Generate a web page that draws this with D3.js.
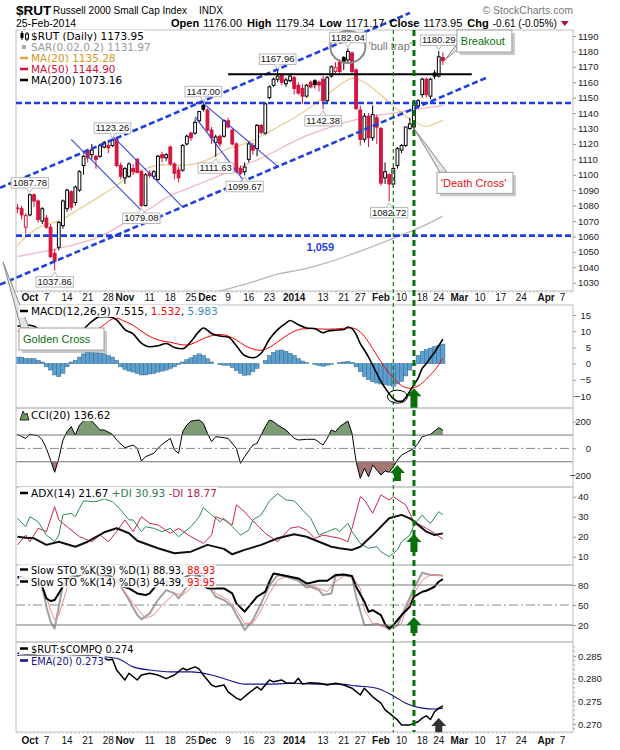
<!DOCTYPE html>
<html>
<head>
<meta charset="utf-8">
<script src="https://cdn.jsdelivr.net/npm/d3@7"></script>
<style>
body{margin:0;background:#fff;}
</style>
</head>
<body>
<svg id="chart" width="620" height="750"></svg>
<script>
// ---------- data ----------
// daily candles: date, open, high, low, close
var candles=[
["2013-09-26",1078.5,1081,1075,1078],["2013-09-27",1078,1080,1071,1074],["2013-09-30",1066,1075,1062,1073.5],
["2013-10-01",1074,1087.78,1073,1087],["2013-10-02",1087,1088,1079,1083],["2013-10-03",1083,1084,1069,1071],
["2013-10-04",1070,1079,1068,1078],["2013-10-07",1072,1074,1065,1066],["2013-10-08",1066,1068,1046,1047],
["2013-10-09",1049,1052,1037.86,1044],["2013-10-10",1053,1070,1051,1069],["2013-10-11",1067,1084,1065,1083],
["2013-10-14",1078,1091,1076,1090],["2013-10-15",1089,1090,1077,1079],["2013-10-16",1082,1093,1080,1092],
["2013-10-17",1090,1103,1089,1102],["2013-10-18",1106,1113,1100,1112],["2013-10-21",1116,1117,1108,1111],
["2013-10-22",1113,1120,1110,1116],["2013-10-23",1112,1113,1104,1110],["2013-10-24",1112,1120,1111,1119],
["2013-10-25",1118,1122,1117,1121],["2013-10-28",1119,1121,1114,1117.5],["2013-10-29",1119,1123.26,1118,1123],
["2013-10-30",1123,1124,1105,1106],["2013-10-31",1106,1108,1097,1099],["2013-11-01",1098,1105,1094,1104],
["2013-11-04",1099,1108,1098,1107],["2013-11-05",1104,1107,1100,1102],["2013-11-06",1110,1111,1101,1101.5],
["2013-11-07",1102,1103,1079.08,1080],["2013-11-08",1080,1101,1079.5,1100],["2013-11-11",1101,1103,1098,1099.5],
["2013-11-12",1099,1103,1097,1102],["2013-11-13",1097,1113,1096,1112],["2013-11-14",1113,1115,1108,1111],
["2013-11-15",1111,1114,1109,1113],["2013-11-18",1118,1119,1106,1107],["2013-11-19",1107,1108,1097,1101],
["2013-11-20",1103,1105,1095,1098],["2013-11-21",1103,1120,1102,1119],["2013-11-22",1120,1126,1119,1125],
["2013-11-25",1127,1128,1122,1124],["2013-11-26",1127,1136,1126,1134],["2013-11-27",1135,1141.5,1134,1141],
["2013-11-29",1145,1147,1141,1142.5],["2013-12-02",1142,1143,1128,1129],["2013-12-03",1129,1131,1120,1124],
["2013-12-04",1121,1126,1111.63,1124.5],["2013-12-05",1125,1126,1118,1120],["2013-12-06",1125,1136,1124,1135],
["2013-12-09",1135,1137,1130,1131],["2013-12-10",1129,1130,1119,1120],["2013-12-11",1120,1121,1101,1102],
["2013-12-12",1104,1106,1100,1101],["2013-12-13",1102,1108,1099.67,1105],["2013-12-16",1110,1122,1108,1120],
["2013-12-17",1119,1121,1113,1116],["2013-12-18",1117,1133,1112,1132],["2013-12-19",1132,1133,1126,1127.5],
["2013-12-20",1127,1147,1126,1146],["2013-12-23",1150,1158,1149,1157],["2013-12-24",1158,1163,1157,1162],
["2013-12-26",1162,1167.96,1160,1164],["2013-12-27",1165,1166,1158,1160],["2013-12-30",1159,1163,1157,1161.5],
["2013-12-31",1161,1165,1160,1164],["2014-01-02",1163,1164,1152,1156],["2014-01-03",1158,1160,1152,1153],
["2014-01-06",1156,1159,1146,1151],["2014-01-07",1151,1159,1150,1158],["2014-01-08",1160,1161,1156,1157],
["2014-01-09",1161,1162,1156,1158.5],["2014-01-10",1160,1161,1154,1158.2],["2014-01-13",1162,1164,1142.38,1148],
["2014-01-14",1148,1164,1147,1163],["2014-01-15",1164,1171,1163,1170],["2014-01-16",1167,1173,1165,1169.5],
["2014-01-17",1173,1175,1165,1167],["2014-01-21",1176,1177,1168,1173.5],["2014-01-22",1174.5,1182.04,1173,1180],
["2014-01-23",1179,1180,1165,1167],["2014-01-24",1168,1169,1142,1143],["2014-01-27",1142,1145,1119,1123],
["2014-01-28",1123,1140,1121,1138],["2014-01-29",1138,1140,1118,1124],["2014-01-30",1124,1145,1122,1139],
["2014-01-31",1137,1139,1120,1130.9],["2014-02-03",1130,1131,1093,1094.6],["2014-02-04",1098,1108,1094,1102],
["2014-02-05",1100,1101,1082.72,1094],["2014-02-06",1094,1105,1092,1104],["2014-02-07",1106,1118,1104,1117],
["2014-02-10",1116,1120,1114,1119],["2014-02-11",1119,1131,1118,1131],["2014-02-12",1130,1137,1129,1133],
["2014-02-13",1131,1146,1129,1145],["2014-02-14",1145,1149,1143,1148],["2014-02-18",1152,1163,1150,1162],
["2014-02-19",1162,1163,1150,1152],["2014-02-20",1151,1163,1149,1162],["2014-02-21",1166,1168,1162,1164],
["2014-02-24",1164,1180.29,1163,1176.5],["2014-02-25",1176,1179.34,1171.17,1173.95]
];
// line series: [candle index, value]
var ma20=[[0,1054],[3,1062],[7,1068],[10,1070],[15,1078],[20,1086],[24,1093],[27,1099],[31,1104],[35,1106.5],[39,1106],[43,1107],[47,1111],[51,1117],[55,1120],[59,1125],[63,1131],[67,1137],[71,1144],[75,1152],[79,1160],[81,1162.5],[84,1160],[87,1154],[90,1147],[93,1140],[96,1134.5],[99,1131.5],[101,1133],[103,1135.3]];
var ma50=[[0,1047],[4,1049],[12,1053.5],[20,1060],[28,1072],[32,1078],[36,1085],[44,1094],[52,1103],[60,1112],[68,1123],[76,1131],[84,1137],[92,1140.5],[98,1143],[103,1144.9]];
var ma200=[[39,1019],[51,1026],[57,1030.5],[63,1035.5],[69,1038.7],[75,1043],[81,1048.5],[87,1054.5],[93,1061],[98,1066.5],[103,1073.2]];
var macdLine=[[0,11.5],[2,12],[4,11.5],[6,9.5],[8,6.5],[10,5],[12,5.5],[14,7.5],[16,10.5],[18,13],[20,14.5],[22,14.5],[24,13.5],[26,10.5],[28,9.2],[30,6.3],[32,5.2],[34,5.5],[36,6.2],[38,5],[40,4.6],[42,6.8],[44,10],[45,11],[47,9.3],[49,8.5],[51,8.2],[53,5.5],[55,2.5],[57,1.8],[59,3.2],[61,7.5],[63,10.5],[65,12.5],[66,13.3],[68,12],[70,11],[72,10.8],[74,9.5],[75,10],[77,10.3],[79,10.5],[80,11.3],[81,10.8],[82,9],[83,6.2],[84,4.2],[85,2],[86,-0.5],[87,-3],[88,-5.5],[89,-7.5],[90,-9.3],[91,-10.8],[92,-11.6],[93,-11.6],[94,-10.5],[95,-8.5],[96,-6.5],[97,-4.5],[98,-1.5],[99,0],[100,1.8],[101,3.5],[102,5.5],[103,7.5]];
var macdSignal=[[0,10],[3,10.5],[6,10],[9,9],[12,8],[15,8],[18,9.5],[21,12],[23,13.8],[24,14],[26,13],[28,11.8],[30,10],[32,8.4],[35,7],[37,6.6],[39,6],[41,5.7],[43,6.5],[45,7.7],[47,8.6],[49,9],[51,8.5],[53,7.3],[55,5.6],[57,4.5],[59,4.1],[61,5],[63,6.7],[65,8.5],[67,10],[69,10.7],[71,10.8],[73,10.7],[75,10.6],[77,10.7],[79,10.9],[81,11],[82,10.6],[83,9.8],[84,8.4],[85,6.6],[86,4.6],[87,2.6],[88,0.6],[89,-1.3],[90,-3],[91,-4.5],[92,-5.8],[93,-6.8],[94,-7.4],[95,-7.6],[96,-7.4],[97,-6.9],[98,-6],[99,-4.8],[100,-3.5],[101,-2.1],[102,-0.3],[103,1.5]];
// one histogram value per candle
var macdHist=[2.0,2.0,1.5,1.5,1.5,1.0,0.5,
-1.0,-2.0,-3.5,-4.0,-3.0,-1.0,0.5,1.0,2.0,3.0,
3.5,3.5,3.3,3.2,3.0,2.5,2.0,1.0,-1.0,-1.8,
-2.3,-2.6,-3.0,-3.5,-3.5,-3.2,-3.0,-2.6,-2.3,-2.0,
-1.5,-1.0,-0.3,0.5,1.2,1.8,2.5,3.0,2.5,1.5,
0.5,0.0,-0.3,-0.5,-0.5,-1.2,-2.2,-3.0,-3.6,-3.5,
-2.5,-1.5,0.0,1.0,2.5,3.5,4.0,4.2,3.8,3.2,
2.5,1.5,0.8,0.3,0.0,-0.3,-0.6,-0.8,-0.5,-0.2,
0.0,0.3,0.5,0.7,0.3,-1.0,-2.5,-4.0,-5.0,-5.6,
-6.0,-6.3,-6.5,-6.7,-7.0,-6.3,-5.5,-3.8,-2.0,-0.5,
2.5,3.8,4.3,4.8,5.2,5.6,6.0];
var cci=[[0,105],[1,88],[2,75],[3,105],[5,95],[6,63],[7,0],[8,-87],[9,-179],[10,-75],[11,63],[12,125],[13,163],[14,100],[15,175],[16,205],[17,213],[18,205],[20,138],[21,138],[23,105],[24,63],[26,5],[28,25],[29,0],[30,-94],[31,-62],[33,-37],[34,0],[35,30],[37,75],[38,-12],[39,-37],[40,125],[41,175],[42,205],[44,213],[45,188],[46,113],[47,50],[48,88],[50,80],[51,75],[53,0],[54,-112],[55,-62],[57,25],[58,38],[60,163],[61,213],[62,200],[63,175],[65,138],[67,75],[68,63],[70,68],[72,68],[74,25],[75,75],[76,138],[77,125],[78,163],[80,205],[81,113],[82,-100],[83,-224],[84,-150],[85,-212],[86,-124],[87,-162],[88,-199],[89,-169],[90,-179],[91,-137],[92,-87],[93,-50],[96,0],[97,38],[98,88],[100,105],[101,130],[102,155],[103,137]];
var adx=[[0,20],[2,19.5],[4,19.2],[7,15.9],[10,17.5],[14,15],[17,17.5],[21,22.2],[24,24.2],[27,21.7],[29,18],[34,14.2],[38,11.7],[42,12.5],[46,15.9],[50,13.9],[52,11.2],[55,13.4],[59,15.9],[63,19.2],[67,21.2],[70,20],[73,17.5],[76,15],[78,14.2],[81,13.4],[83,15],[86,20.8],[90,29.2],[93,30.9],[95,29.2],[97,25.9],[99,22.5],[101,20.8],[103,21.67]];
var plusDI=[[0,29.2],[2,25],[3,30],[5,27.5],[7,20.8],[9,17.5],[10,20.8],[11,30.9],[13,31.7],[14,30],[15,34.2],[16,37.9],[19,37.5],[21,38.9],[23,37.5],[25,33.4],[27,28.4],[28,28.4],[30,22.5],[31,25],[33,24.2],[35,22.5],[37,24.2],[39,20],[42,25],[44,30],[45,34.5],[47,30.9],[49,27.5],[50,29.2],[52,25],[54,20.8],[56,23.3],[57,28.4],[59,30.9],[61,37.9],[63,41.5],[65,38.4],[67,37.9],[69,33.4],[71,29.2],[73,20.8],[75,22.5],[77,24.2],[78,22.5],[80,26.7],[81,22.5],[83,16.7],[85,14.2],[87,15],[88,12.5],[90,10],[92,13.4],[93,17.5],[95,20.8],[96,25.9],[98,30.9],[99,28.4],[100,26.7],[102,32.5],[103,30.93]];
var minusDI=[[0,15.9],[2,20.8],[3,17.5],[5,24.2],[7,22.5],[9,35],[10,28.4],[12,25],[15,20],[18,17.5],[20,20.8],[22,17.5],[24,22.5],[26,28.4],[28,22.5],[30,30],[32,26.7],[34,25.9],[37,21.7],[39,24.2],[42,20],[45,16.7],[47,20.8],[48,30],[50,28.4],[52,25.9],[53,35.9],[55,32.5],[56,30],[58,25.9],[60,21.7],[63,17.5],[66,24.2],[68,25],[70,23.3],[72,19.2],[74,20.8],[76,20],[78,19.2],[80,17.5],[81,24.2],[83,40],[84,38.4],[86,31.7],[88,40.9],[90,38.4],[91,40],[94,35.9],[96,27.5],[99,24.2],[101,21.7],[103,18.77]];
var stoK39=[[0,92],[2,90],[4,88],[5,85],[6,77.4],[7,60],[8,56],[9,57.4],[10,67.4],[11,78.4],[12,86],[14,92],[16,97],[18,98],[20,97],[22,95],[24,88],[25,78.4],[27,75],[29,67.4],[31,64.9],[32,67.4],[33,75],[34,82],[36,85],[38,84],[40,90],[42,96],[44,94.9],[45,80],[46,75],[48,74.9],[50,74.9],[52,67.4],[53,52.4],[55,40],[56,47.4],[58,62.4],[60,70],[61,85],[62,97.4],[64,94.9],[66,92.4],[68,89.9],[70,82.4],[71,83.4],[73,86.4],[75,86.4],[77,94.9],[79,95.9],[81,93.4],[82,77.4],[84,54.9],[85,39.9],[86,42.4],[88,34.9],[89,21.4],[90,14.9],[91,19.9],[93,34.9],[95,47.4],[96,62.4],[98,69.9],[99,71.4],[101,77.4],[102,84.9],[103,88.93]];
var stoK14=[[0,90],[2,88],[4,85],[5,80],[6,77.4],[7,47.4],[8,25],[9,14.9],[10,47.4],[11,80],[12,90],[14,95],[16,98],[18,97],[20,95],[22,92],[24,88],[25,78],[27,57.4],[29,35],[30,28.4],[32,37.4],[34,57.4],[36,72.4],[38,67.4],[39,59.9],[41,77.4],[43,92],[45,95],[46,80],[48,62.4],[50,57.4],[52,47.4],[53,35],[54,24.9],[55,12.4],[57,27.4],[59,52.4],[61,79.9],[63,94.9],[65,92.4],[68,86.4],[70,76.4],[71,77.4],[73,72.4],[74,64.9],[76,67.4],[77,93.4],[79,94.9],[81,92.4],[82,62.4],[84,19.9],[85,19.9],[87,21.4],[89,17.4],[90,13.4],[92,19.9],[94,47.4],[96,74.9],[98,98.4],[100,94.9],[101,94.9],[103,94.39]];
var stoD14=[[0,91],[2,89],[4,86],[6,80],[7,62],[8,42.4],[9,28],[10,35],[11,55],[12,75],[13,88],[15,95],[17,97],[19,96],[21,94],[23,90],[25,78],[28,52.4],[31,29.9],[33,34.9],[35,49.9],[38,67.4],[40,64.9],[42,75],[44,88],[46,85],[48,67.4],[51,57.4],[53,42.4],[55,22.4],[57,22.4],[59,42.4],[61,67.4],[63,87.4],[65,92.4],[68,89.9],[70,79.9],[72,77.4],[75,69.9],[77,84.9],[79,93.4],[81,93.4],[83,74.9],[84,42.4],[86,22.4],[89,19.9],[91,14.9],[93,22.4],[94,42.4],[96,67.4],[98,87.4],[100,94.9],[103,93.95]];
var ratio=[[0,0.2856],[3,0.2853],[6,0.2850],[10,0.2848],[14,0.2850],[17,0.2851],[19,0.2850],[20,0.2849],[22,0.2841],[23,0.2843],[24,0.2819],[26,0.2797],[27,0.2812],[29,0.2797],[30,0.2808],[32,0.2812],[34,0.2808],[36,0.2800],[38,0.2808],[40,0.2823],[41,0.2819],[43,0.2826],[44,0.2821],[45,0.2808],[47,0.2786],[48,0.2782],[50,0.2786],[51,0.2771],[53,0.2757],[54,0.2753],[56,0.2768],[58,0.2782],[59,0.2775],[61,0.2797],[62,0.2793],[64,0.2797],[65,0.2791],[67,0.2790],[68,0.2801],[69,0.2788],[71,0.2791],[73,0.2790],[75,0.2786],[77,0.2790],[79,0.2786],[81,0.2779],[83,0.2764],[84,0.2779],[86,0.2760],[88,0.2746],[89,0.2731],[90,0.2724],[92,0.2709],[93,0.2698],[95,0.2698],[97,0.2705],[98,0.2713],[99,0.2718],[100,0.2710],[101,0.2727],[102,0.2735],[103,0.2740]];
var ratioEma=[[0,0.2851],[7,0.2850],[13,0.2849],[19,0.2849],[24,0.2845],[28,0.2826],[32,0.2819],[37,0.2815],[42,0.2815],[47,0.2808],[51,0.2797],[55,0.2788],[61,0.2788],[67,0.2790],[72,0.2788],[78,0.2788],[82,0.2784],[87,0.2779],[91,0.2762],[94,0.2746],[98,0.2735],[101,0.2733],[103,0.2735]];
// axis ticks / labels
var priceTicks=[1190,1180,1170,1160,1150,1140,1130,1120,1110,1100,1090,1080,1070,1060,1050,1040,1030];
var macdTicks=[15,10,5,0,-5,-10], cciTicks=[200,0,-200], adxTicks=[40,30,20,10], stoTicks=[80,50,20], ratioTicks=[0.285,0.280,0.275,0.270];
var dateTicks=[["2013-10-01","Oct",1],["2013-10-07","7"],["2013-10-14","14"],["2013-10-21","21"],["2013-10-28","28"],["2013-11-01","Nov",1],["2013-11-11","11"],["2013-11-18","18"],["2013-11-25","25"],["2013-12-02","Dec",1],["2013-12-09","9"],["2013-12-16","16"],["2013-12-23","23"],["2014-01-02","2014",1],["2014-01-13","13"],["2014-01-21","21"],["2014-01-27","27"],["2014-02-03","Feb",1],["2014-02-10","10"],["2014-02-18","18"],["2014-02-24","24"],["2014-03-03","Mar",1],["2014-03-10","10"],["2014-03-17","17"],["2014-03-24","24"],["2014-04-01","Apr",1],["2014-04-07","7"]];
// chart annotations (drawn levels and labelled highs / lows)
var supportLevels=[1146.5,1060.5];
var resistance=[["2013-12-09",1165.2],["2014-03-06",1165.2]];
var upperChannel=[["2013-10-01",1099.8],["2014-01-22",1187.8]];
var lowerChannel=[["2013-10-01",1037.0],["2014-02-25",1150.9]];
var downLines=[[["2013-10-15",1123],["2013-11-08",1074.2]],[["2013-10-24",1133.4],["2013-11-21",1079]],[["2013-11-26",1137.5],["2013-12-13",1095.4]],[["2013-11-29",1146.3],["2013-12-26",1105.4]]];
var priceNotes=[["2013-10-01",1087.78,1],["2013-10-29",1123.26,1],["2013-11-29",1147.00,1],["2013-12-26",1167.96,1],["2014-01-22",1182.04,1],["2014-02-24",1180.29,1],["2014-01-13",1142.38,-1],["2013-12-04",1111.63,-1],["2013-12-13",1099.67,-1],["2013-11-07",1079.08,-1],["2013-10-09",1037.86,-1],["2014-02-05",1082.72,-1]];
var markerDays=["2014-02-06","2014-02-13"];

// ---------- layout ----------
var AR="Liberation Sans, Arial, sans-serif", DV="DejaVu Sans, Verdana, sans-serif";
var L=16,R=573;
var P={main:[30,291],macd:[305,408],cci:[408,487],adx:[487,565],sto:[565,642],ratio:[642,732]};
var RED="#d4143c", BLUE="#1f3fe0", GREEN="#0a700a";
var svg=d3.select("#chart");
var fmt=d3.timeFormat("%Y-%m-%d"), parse=d3.timeParse("%Y-%m-%d");
var days=candles.map(function(d){return d[0];});
var future=d3.timeDay.range(parse("2014-02-26"),parse("2014-04-10"))
  .filter(function(d){return d.getDay()>0&&d.getDay()<6;}).map(fmt);
var x=d3.scalePoint().domain(days.concat(future)).range([17.5,570.9]);
var step=x.step();
var y=d3.scaleLinear().domain([1190,1030]).range([36,282.7]);
var yM=d3.scaleLinear().domain([15,-10]).range([315,396]);
var yC=d3.scaleLinear().domain([200,-200]).range([421.7,475.1]);
var yA=d3.scaleLinear().domain([40,10]).range([496.7,556.7]);
var yS=d3.scaleLinear().domain([80,20]).range([585,625]);
var yR=d3.scaleLinear().domain([0.285,0.270]).range([656,724]);
function xi(k){return x(days[k]);}

var defs=svg.append("defs");
Object.keys(P).forEach(function(k){
  defs.append("clipPath").attr("id","clip-"+k).append("rect")
    .attr("x",L).attr("y",P[k][0]).attr("width",R-L).attr("height",P[k][1]-P[k][0]);
});
function panelG(k){return svg.append("g").attr("clip-path","url(#clip-"+k+")");}
function drawLine(g,data,ys,color,w,op,curve){
  g.append("path").datum(data)
    .attr("d",d3.line().curve(curve||d3.curveLinear).x(function(d){return xi(d[0]);}).y(function(d){return ys(d[1]);}))
    .attr("fill","none").attr("stroke",color).attr("stroke-width",w).attr("stroke-opacity",op==null?1:op)
    .attr("stroke-linejoin","round");
}
function hRule(ys,v,color,dash){
  svg.append("line").attr("x1",L).attr("x2",R).attr("y1",ys(v)).attr("y2",ys(v))
    .attr("stroke",color).attr("stroke-width",1).attr("stroke-dasharray",dash||null);
}

// ---------- main price panel ----------
var gm=panelG("main");
drawLine(gm,ma200,y,"#000",1.3,0.28,d3.curveMonotoneX);
drawLine(gm,ma50,y,"#d0103a",1.3,0.3,d3.curveMonotoneX);
drawLine(gm,ma20,y,"#d9a441",1.3,0.55,d3.curveMonotoneX);

var cd=candles.map(function(d,k){return {d:d[0],o:d[1],h:d[2],l:d[3],c:d[4],pc:k?candles[k-1][4]:d[1]};});
function ccol(d){return d.c<d.pc?RED:"#000";}
var cg=gm.selectAll("g.cdl").data(cd).join("g").attr("class","cdl");
cg.append("line").attr("x1",function(d){return x(d.d);}).attr("x2",function(d){return x(d.d);})
  .attr("y1",function(d){return y(d.h);}).attr("y2",function(d){return y(d.l);})
  .attr("stroke",ccol).attr("stroke-width",1);
cg.append("rect").attr("x",function(d){return x(d.d)-1.4;}).attr("width",2.8)
  .attr("y",function(d){return y(Math.max(d.o,d.c));})
  .attr("height",function(d){return Math.max(0.8,Math.abs(y(d.o)-y(d.c)));})
  .attr("fill",function(d){return d.c>=d.o?"#fff":ccol(d);})
  .attr("stroke",ccol).attr("stroke-width",1);

// ---------- MACD ----------
var gmacd=panelG("macd");
gmacd.selectAll("rect").data(macdHist).join("rect")
  .attr("x",function(d,k){return xi(k)-step/2;}).attr("width",step)
  .attr("y",function(d){return Math.min(yM(0),yM(d));})
  .attr("height",function(d){return Math.abs(yM(d)-yM(0));})
  .attr("fill","#5da0cf").attr("stroke","#2e6790").attr("stroke-width",0.5);
drawLine(gmacd,macdSignal,yM,"#ff0000",1,1,d3.curveMonotoneX);
drawLine(gmacd,macdLine,yM,"#000",1.6,1,d3.curveMonotoneX);

// ---------- CCI ----------
var gcci=panelG("cci");
defs.append("clipPath").attr("id","cci-up").append("rect").attr("x",L).attr("y",P.cci[0]).attr("width",R-L).attr("height",yC(100)-P.cci[0]);
defs.append("clipPath").attr("id","cci-dn").append("rect").attr("x",L).attr("y",yC(-100)).attr("width",R-L).attr("height",P.cci[1]-yC(-100));
var cArea=function(base){return d3.area().x(function(d){return xi(d[0]);}).y0(yC(base)).y1(function(d){return yC(d[1]);});};
gcci.append("path").datum(cci).attr("d",cArea(100)).attr("fill","#7c9c74").attr("clip-path","url(#cci-up)");
gcci.append("path").datum(cci).attr("d",cArea(-100)).attr("fill","#a57773").attr("clip-path","url(#cci-dn)");
hRule(yC,100,"#777"); hRule(yC,-100,"#777"); hRule(yC,0,"#888","9,3,2,3");
drawLine(gcci,cci,yC,"#000",1);

// ---------- ADX ----------
var gadx=panelG("adx");
drawLine(gadx,minusDI,yA,"#c8284c",1);
drawLine(gadx,plusDI,yA,"#2e8b57",1);
drawLine(gadx,adx,yA,"#111",2);

// ---------- Slow STO ----------
var gsto=panelG("sto");
hRule(yS,80,"#777"); hRule(yS,20,"#777"); hRule(yS,50,"#888","9,3,2,3");
drawLine(gsto,stoK14,yS,"#a0a0a0",2);
drawLine(gsto,stoD14,yS,"#f08a8a",1);
drawLine(gsto,stoK39,yS,"#000",2);

// ---------- ratio ----------
var grat=panelG("ratio");
drawLine(grat,ratioEma,yR,"#12128c",1.1,1,d3.curveMonotoneX);
drawLine(grat,ratio,yR,"#000",1.5);

// ---------- frames, axes, dates ----------
Object.keys(P).forEach(function(k){
  svg.append("rect").attr("x",L).attr("y",P[k][0]).attr("width",R-L).attr("height",P[k][1]-P[k][0])
    .attr("fill","none").attr("stroke","#bdbdbd").attr("stroke-width",1);
});
function rightAxis(scale,ticks,f,endAlign){
  var g=svg.append("g").attr("transform","translate("+R+",0)")
    .call(d3.axisRight(scale).tickValues(ticks).tickSize(3).tickPadding(endAlign?0:2).tickFormat(f));
  g.select(".domain").remove();
  g.selectAll("line").attr("stroke","#999");
  g.selectAll("text").attr("font-family",AR).attr("font-size","9.5px").attr("fill","#222");
  if(endAlign) g.selectAll("text").attr("text-anchor","end").attr("x",18);
}
rightAxis(y,priceTicks,d3.format("d"),false);
rightAxis(yM,macdTicks,d3.format("d"),true);
rightAxis(yC,cciTicks,d3.format("d"),true);
rightAxis(yA,adxTicks,d3.format("d"),false);
rightAxis(yS,stoTicks,d3.format("d"),false);
rightAxis(yR,ratioTicks,d3.format(".3f"),false);
svg.append("g").selectAll("line").data(d3.range(0.269,0.2875,0.001)).join("line")
  .attr("x1",R).attr("x2",R+2).attr("y1",function(d){return yR(d);}).attr("y2",function(d){return yR(d);}).attr("stroke","#aaa");

function dateRow(yb,tickY){
  svg.append("g").selectAll("line").data(x.domain()).join("line")
    .attr("x1",function(d){return x(d);}).attr("x2",function(d){return x(d);})
    .attr("y1",tickY).attr("y2",tickY+2).attr("stroke","#aaa").attr("stroke-width",0.6);
  svg.append("g").selectAll("text").data(dateTicks).join("text")
    .attr("x",function(d){return x(d[0]);}).attr("y",yb).attr("text-anchor","middle")
    .attr("font-family",AR).attr("font-size","10px").attr("fill","#111")
    .attr("font-weight",function(d){return d[2]?"bold":"normal";}).text(function(d){return d[1];});
}
dateRow(300.5,P.main[1]);
dateRow(743.5,P.ratio[1]);

// ---------- main-panel drawings ----------
supportLevels.forEach(function(v){
  svg.append("line").attr("x1",L).attr("x2",R).attr("y1",y(v)).attr("y2",y(v))
    .attr("stroke",BLUE).attr("stroke-width",2.6).attr("stroke-dasharray","6,3");
});
svg.append("text").attr("x",x("2014-01-07")).attr("y",y(supportLevels[1])+15.5)
  .attr("font-family",AR).attr("font-weight","bold").attr("font-size","11px").attr("fill",BLUE).text("1,059");
function ext(seg,x0,x1){
  var ax=x(seg[0][0]),ay=y(seg[0][1]),bx=x(seg[1][0]),by=y(seg[1][1]),m=(by-ay)/(bx-ax);
  return [[x0,ay+m*(x0-ax)],[x1,ay+m*(x1-ax)]];
}
[[upperChannel,0,410],[lowerChannel,0,487]].forEach(function(c){
  var p=ext(c[0],c[1],c[2]);
  svg.append("line").attr("x1",p[0][0]).attr("y1",p[0][1]).attr("x2",p[1][0]).attr("y2",p[1][1])
    .attr("stroke",BLUE).attr("stroke-width",2.6).attr("stroke-dasharray","6,3");
});
downLines.forEach(function(s){
  svg.append("line").attr("x1",x(s[0][0])).attr("y1",y(s[0][1])).attr("x2",x(s[1][0])).attr("y2",y(s[1][1]))
    .attr("stroke","#3347dd").attr("stroke-width",1.1);
});
svg.append("line").attr("x1",x(resistance[0][0])).attr("x2",x(resistance[1][0]))
  .attr("y1",y(resistance[0][1])).attr("y2",y(resistance[1][1])).attr("stroke","#000").attr("stroke-width",2);

// bull trap ring
svg.append("ellipse").attr("cx",x("2014-01-22")).attr("cy",y(1182.9)).attr("rx",17.5).attr("ry",16)
  .attr("fill","none").attr("stroke","#888").attr("stroke-width",2);
svg.append("text").attr("x",x("2014-01-29")).attr("y",y(1181)).attr("font-family",AR).attr("font-size","11px")
  .attr("fill","#777").text("'bull trap'");

// labelled highs and lows
priceNotes.forEach(function(n){
  var px=x(n[0]),py=y(n[1]),up=n[2]>0;
  var g=svg.append("g");
  var by=up?py-16:py+6;
  var t=g.append("text").attr("x",px).attr("y",by+8.3).attr("text-anchor","middle")
    .attr("font-family",AR).attr("font-size","9.5px").attr("fill","#111").text(n[1].toFixed(2));
  var w=t.node().getComputedTextLength()+3;
  g.insert("rect","text").attr("x",px-w/2).attr("y",by).attr("width",w).attr("height",10.5)
    .attr("fill","#fff").attr("stroke","#b8b8b8").attr("stroke-width",1);
  var cy=up?by+10.5:by;
  g.append("path").attr("d","M"+(px-3)+","+cy+"L"+px+","+(up?cy+4.5:cy-4.5)+"L"+(px+3)+","+cy)
    .attr("fill","#fff").attr("stroke","#b8b8b8");
});

// ---------- green markers across all panels ----------
svg.append("line").attr("x1",x(markerDays[0])).attr("x2",x(markerDays[0])).attr("y1",P.main[0]).attr("y2",P.ratio[1])
  .attr("stroke","#0c800c").attr("stroke-width",1.2).attr("stroke-dasharray","4,3");
svg.append("line").attr("x1",x(markerDays[1])).attr("x2",x(markerDays[1])).attr("y1",P.main[0]).attr("y2",P.ratio[1])
  .attr("stroke",GREEN).attr("stroke-width",3).attr("stroke-dasharray","6,4");

function arrowPath(cx,t,b){
  var hw=7.5,sw=3.5,hh=8;
  return "M"+cx+","+t+"L"+(cx+hw)+","+(t+hh)+"L"+(cx+sw)+","+(t+hh)+"L"+(cx+sw)+","+b+
    "L"+(cx-sw)+","+b+"L"+(cx-sw)+","+(t+hh)+"L"+(cx-hw)+","+(t+hh)+"Z";
}
[[yM,"2014-02-13",-7.6,-13.6,GREEN],[yC,"2014-02-07",-124,-244,GREEN],[yA,"2014-02-13",21.4,12.4,GREEN],
 [yS,"2014-02-13",32,8,GREEN],[yR,"2014-02-24",0.27133,0.2682,"#333"]].forEach(function(a){
  svg.append("path").attr("d",arrowPath(x(a[1]),a[0](a[2]),a[0](a[3]))).attr("fill",a[4]);
});
svg.append("ellipse").attr("cx",x("2014-02-07")).attr("cy",yM(-10.2)).attr("rx",10).attr("ry",6.5)
  .attr("fill","none").attr("stroke","#000").attr("stroke-width",1);

// ---------- callouts ----------
function callout(box,tip,b1,b2,label,col){
  var g=svg.append("g");
  g.append("rect").attr("x",box[0]+3).attr("y",box[1]+3).attr("width",box[2]).attr("height",box[3]).attr("fill","#9a9a9a").attr("opacity",0.55);
  g.append("path").attr("d","M"+b1+"L"+tip+"L"+b2+"Z").attr("fill","#e4e4e4").attr("stroke","#8a8a8a");
  g.append("rect").attr("x",box[0]).attr("y",box[1]).attr("width",box[2]).attr("height",box[3])
    .attr("fill","#fff").attr("stroke","#a0a0a0");
  g.append("text").attr("x",box[0]+4).attr("y",box[1]+box[3]/2+4).attr("font-family",AR).attr("font-size","11px")
    .attr("fill",col).text(label);
}
(function(){
  var t=[x("2014-02-25")+2,y(1174.4)], b=[t[0]+12,t[1]-30,55,22];
  callout(b,t,[b[0],b[1]+14],[b[0],b[1]+20],"Breakout",GREEN);
  var t2=[x("2014-02-13"),y(1130.1)], b2=[t2[0]+23,t2[1]+44,76,21];
  callout(b2,t2,[b2[0]+3,b2[1]],[b2[0]+10,b2[1]],"'Death Cross'","#e8101a");
  var b3=[19,328,85,22];
  callout(b3,[3,262],[b3[0]+2,b3[1]],[b3[0]+10,b3[1]],"Golden Cross",GREEN);
})();

// ---------- legends ----------
function lineIcon(col){return function(g,x0,yc){g.append("line").attr("x1",x0+2).attr("x2",x0+10).attr("y1",yc).attr("y2",yc).attr("stroke",col).attr("stroke-width",2.5);};}
function sqIcon(col){return function(g,x0,yc){g.append("rect").attr("x",x0+4).attr("y",yc-2).attr("width",4).attr("height",4).attr("fill",col);};}
function candleIcon(g,x0,yc){
  g.append("line").attr("x1",x0+4).attr("x2",x0+4).attr("y1",yc-5).attr("y2",yc+4).attr("stroke","#000");
  g.append("rect").attr("x",x0+2.5).attr("y",yc-3).attr("width",3).attr("height",5).attr("fill","#000");
  g.append("line").attr("x1",x0+9).attr("x2",x0+9).attr("y1",yc-4).attr("y2",yc+5).attr("stroke","#000");
  g.append("rect").attr("x",x0+7.5).attr("y",yc-2).attr("width",3).attr("height",5).attr("fill","#fff").attr("stroke","#000");
}
function mountainIcon(g,x0,yc){
  g.append("path").attr("d","M"+(x0+2)+","+(yc+5)+"L"+(x0+5)+","+(yc-4)+"L"+(x0+7)+","+yc+"L"+(x0+9)+","+(yc-2)+"L"+(x0+11)+","+(yc+5)+"Z")
    .attr("fill","#6f9a6a").attr("stroke","#000").attr("stroke-width",0.8);
}
function legendRows(rows){
  rows.forEach(function(r){
    var g=svg.append("g");
    var bg=g.append("rect").attr("fill","#fff").attr("fill-opacity",0.92);
    var c=g.append("g");
    var t=c.append("text").attr("x",31).attr("y",r[0]).attr("font-family",DV).attr("font-size",(r[3]||10.5)+"px");
    r[2].forEach(function(p){t.append("tspan").attr("fill",p[1]).text(p[0]);});
    if(r[1]) r[1](c,18,r[0]-4);
    var bb=c.node().getBBox();
    bg.attr("x",bb.x-1).attr("y",bb.y).attr("width",bb.width+2).attr("height",bb.height);
  });
}
legendRows([
  [40,candleIcon,[["$RUT (Daily) 1173.95","#000"]]],
  [51,sqIcon("#aaa"),[["SAR(0.02,0.2) 1131.97","#999"]]],
  [62,lineIcon("#d9a441"),[["MA(20) 1135.28","#d4961c"]]],
  [73,lineIcon("#d0103a"),[["MA(50) 1144.90","#d0103a"]]],
  [84,lineIcon("#000"),[["MA(200) 1073.16","#000"]]],
  [315,lineIcon("#000"),[["MACD(12,26,9) 7.515, ","#000"],["1.532","#ff0000"],[", ","#000"],["5.983","#3d8fc4"]]],
  [419,mountainIcon,[["CCI(20) 136.62","#000"]]],
  [497,lineIcon("#000"),[["ADX(14) 21.67 ","#000"],["+DI 30.93 ","#2e7d50"],["-DI 18.77","#b8204a"]]],
  [573.5,lineIcon("#000"),[["Slow STO %K(39) %D(1) 88.93, ","#000"],["88.93","#ff0000"]],9.8],
  [585.5,lineIcon("#000"),[["Slow STO %K(14) %D(3) 94.39, ","#000"],["93.95","#ff0000"]],9.8],
  [652.5,lineIcon("#000"),[["$RUT:$COMPQ 0.274","#000"]],9.8],
  [664.5,lineIcon("#12128c"),[["EMA(20) 0.273","#12128c"]],9.8]
]);

// ---------- header ----------
svg.append("text").attr("x",16).attr("y",15).attr("font-family",AR).attr("font-weight","bold").attr("font-size","13.5px").text("$RUT");
svg.append("text").attr("x",53).attr("y",14).attr("font-family",AR).attr("font-size","10px").text("Russell 2000 Small Cap Index");
svg.append("text").attr("x",199).attr("y",14).attr("font-family",AR).attr("font-size","10px").text("INDX");
svg.append("text").attr("x",16).attr("y",27).attr("font-family",AR).attr("font-size","10.5px").text("25-Feb-2014");
svg.append("text").attr("x",R).attr("y",14).attr("text-anchor","end").attr("font-family",AR).attr("font-size","10.5px").attr("fill","#777").text("\u00a9 StockCharts.com");
var hdr=[["Open","1176.00"],["High","1179.34"],["Low","1171.17"],["Close","1173.95"],["Chg","-0.61 (-0.05%)"]];
var hx=171;
hdr.forEach(function(h,k){
  var a=svg.append("text").attr("x",hx).attr("y",27).attr("font-family",AR).attr("font-weight","bold").attr("font-size","11px").text(h[0]);
  hx+=a.node().getComputedTextLength()+4;
  var b=svg.append("text").attr("x",hx).attr("y",27).attr("font-family",AR).attr("font-size","11px").text(h[1]);
  if(k===4) b.attr("textLength",64).attr("lengthAdjust","spacingAndGlyphs");
  hx+=(k===4?64:b.node().getComputedTextLength())+5;
});
svg.append("path").attr("d","M"+(hx-1)+",21L"+(hx+7)+",21L"+(hx+3)+",26Z").attr("fill","#b0103a");
</script>
</body>
</html>
